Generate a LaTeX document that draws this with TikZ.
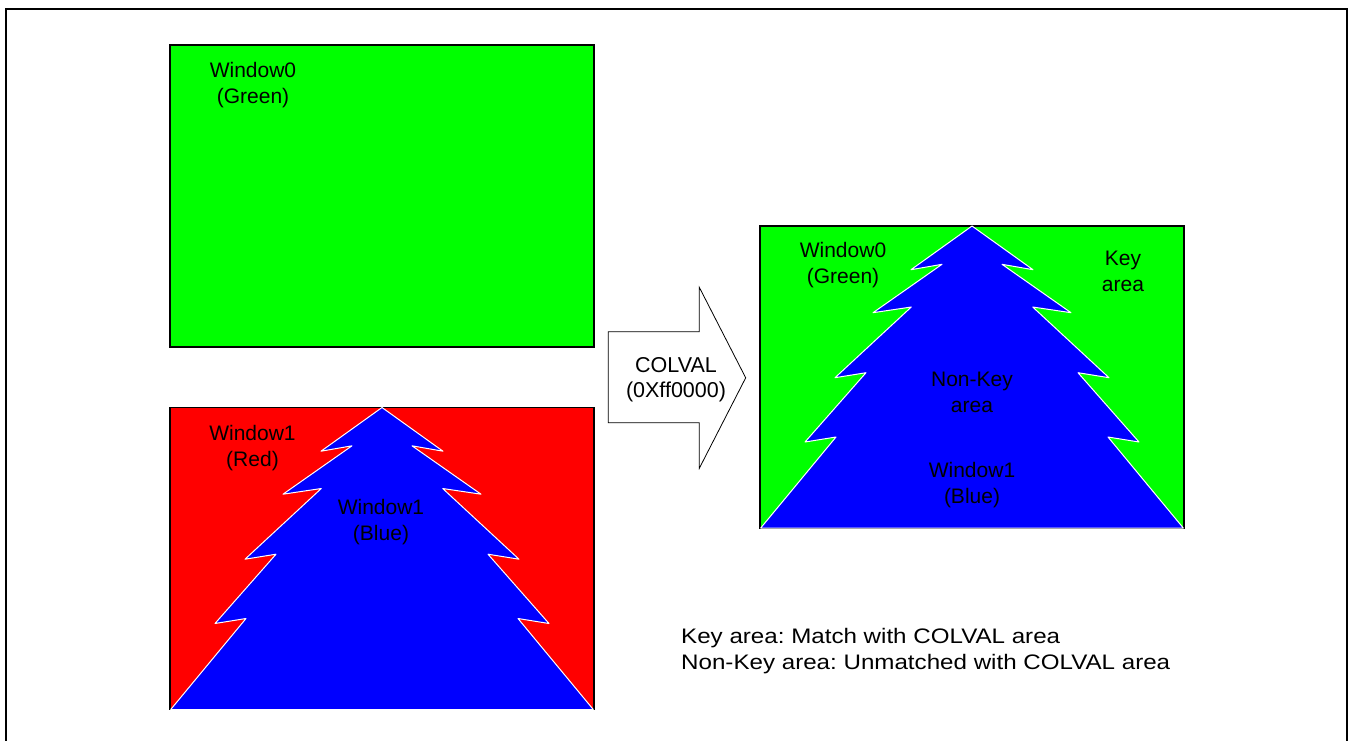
\documentclass[tikz,border=0pt]{standalone}
\usepackage{fontspec}
\setmainfont{Liberation Sans}
\newfontfamily\legendfont{Liberation Sans}[FakeStretch=1.15]
\begin{document}
\begin{tikzpicture}[
  x=1pt, y=-1pt,
  font=\fontsize{21}{26}\selectfont,
  win/.style={rectangle, draw=black, line width=1.2pt, inner sep=0pt, outer sep=0pt,
              minimum width=424pt, minimum height=302pt},
  txt/.style={align=center, inner sep=0pt},
  treeline/.style={fill=blue, draw=white, line width=1pt, line join=round},
  xmastree/.pic={
    \path[treeline] (0,0) -- (-61,43.7) -- (-30,38.3) -- (-99,86.7) -- (-60.7,81)
      -- (-137,151.7) -- (-106,146.7) -- (-167,216) -- (-136,211) -- (-211.3,302)
      -- (211.3,302) -- (136,211) -- (167,216) -- (106,146.7) -- (137,151.7)
      -- (60.7,81) -- (99,86.7) -- (30,38.3) -- (61,43.7) -- cycle;
  }
]
\useasboundingbox (0,0) rectangle (1349,740);

% Outer frame (open at the bottom)
\draw[line width=2pt] (6,750) -- (6,9) -- (1347,9) -- (1347,750);

% Window0 (green) and Window1 (red)
\node[win, fill=green] (win0) at (382,196) {};
\node[win, fill=red]   (win1) at (382,558.5) {};

% Result window
\node[win, fill=green] (result) at (972,377) {};

% Trees of Window1 (blue)
\pic at (win1.north) {xmastree};
\pic at (result.north) {xmastree};

% Labels inside the windows
\node[txt] (w0lbl) at (253,85) {Window0\\(Green)};
\node[txt] (w1lbl) at (252.5,448) {Window1\\(Red)};
\node[txt] (w1blue) at (381,522) {Window1\\(Blue)};
\node[txt] (rw0lbl) at (843,265) {Window0\\(Green)};
\node[txt] (keylbl) at (1123,271) {Key\\area};
\node[txt] (nonkey) at (972,392) {Non-Key\\area};
\node[txt] (rw1lbl) at (972,485) {Window1\\(Blue)};

% COLVAL block arrow
\draw[line width=0.8pt, fill=white] (608.3,331.7) -- (699.3,331.7) -- (699.3,287.3)
  -- (745.7,377.8) -- (699.3,468.3) -- (699.3,422.7) -- (608.3,422.7) -- cycle;
\node[txt, font=\fontsize{21.5}{25}\selectfont] (colval) at (676,379.5) {COLVAL\\(0Xff0000)};

% Legend
\node[txt, align=left, anchor=west, font=\legendfont\fontsize{21}{26}\selectfont\frenchspacing]
  (legend) at (681,651)
  {Key area: Match with COLVAL area\\Non-Key area: Unmatched with COLVAL area};

\end{tikzpicture}
\end{document}
